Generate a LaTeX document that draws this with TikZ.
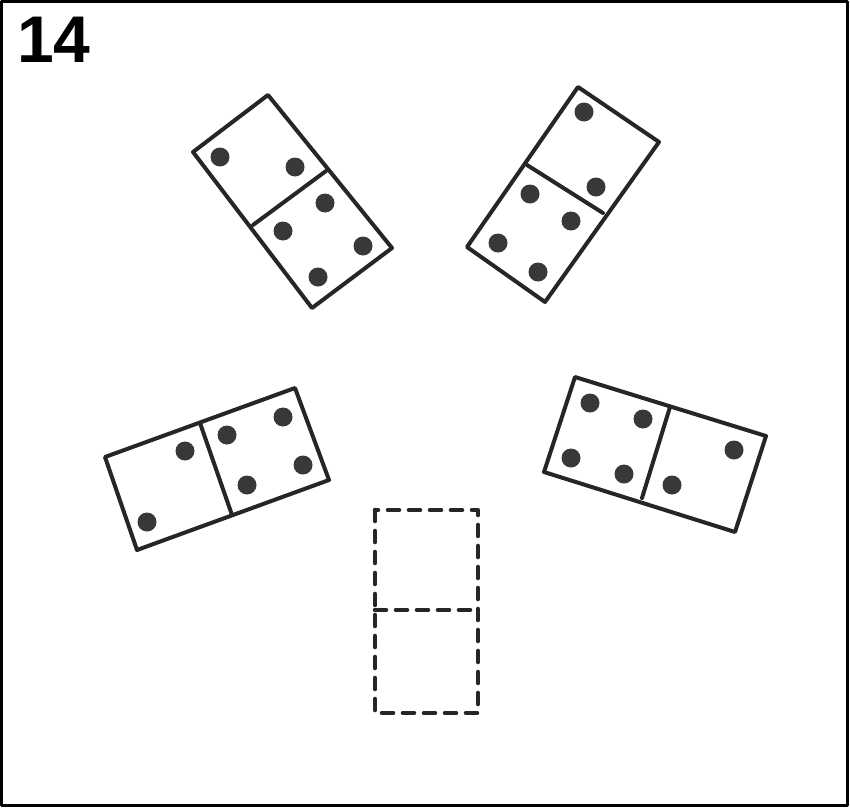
\documentclass[tikz,border=0pt]{standalone}
\usepackage{fontspec}
\setmainfont{Liberation Sans}
\usetikzlibrary{calc}

\begin{document}
\begin{tikzpicture}[
  x=1pt, y=-1pt,
  line cap=round,
  line join=round,
  tile/.style={line width=4pt, draw=black!85},
  ghost/.style={line width=4.6pt, draw=black!85, dash pattern=on 11pt off 10pt},
  pip/.style={fill=black!78}
]
  \useasboundingbox (0,0) rectangle (850,808);
  \draw[line width=2.5pt] (1.5,1.5) rectangle (847.5,805.5);
  \node[anchor=base west, inner sep=0pt, font=\bfseries\fontsize{66}{66}\selectfont] (num) at (17,63) {14};

  % upper left tile (2 | 4)
  \coordinate (a1) at (268, 95);
  \coordinate (a2) at (392,248);
  \coordinate (a3) at (312,308);
  \coordinate (a4) at (193,152);
  \draw[tile] (a1) -- (a2) -- (a3) -- (a4) -- cycle;
  \draw[tile] (326,171) -- (253,225);
  \foreach \x/\y in {220/157, 295/167, 325/203, 283/231, 363/246, 318/277}
    {\fill[pip] (\x,\y) circle (9.5);}

  % upper right tile (2 | 4)
  \coordinate (b1) at (578, 87);
  \coordinate (b2) at (659,142);
  \coordinate (b3) at (545,302);
  \coordinate (b4) at (467,247);
  \draw[tile] (b1) -- (b2) -- (b3) -- (b4) -- cycle;
  \draw[tile] (527,165) -- (603,213);
  \foreach \x/\y in {584/112, 596/187, 530/194, 571/221, 498/243, 538/272}
    {\fill[pip] (\x,\y) circle (9.5);}

  % middle left tile (2 | 4)
  \coordinate (c1) at (105,457);
  \coordinate (c2) at (295,388);
  \coordinate (c3) at (329,480);
  \coordinate (c4) at (137,550);
  \draw[tile] (c1) -- (c2) -- (c3) -- (c4) -- cycle;
  \draw[tile] (200,423) -- (232,515);
  \foreach \x/\y in {185/451, 147/522, 227/435, 283/417, 303/465, 247/485}
    {\fill[pip] (\x,\y) circle (9.5);}

  % middle right tile (4 | 2)
  \coordinate (d1) at (575,377);
  \coordinate (d2) at (766,436);
  \coordinate (d3) at (735,532);
  \coordinate (d4) at (544,472);
  \draw[tile] (d1) -- (d2) -- (d3) -- (d4) -- cycle;
  \draw[tile] (670,407) -- (642,498);
  \foreach \x/\y in {590/403, 643/419, 571/458, 624/474, 734/450, 672/485}
    {\fill[pip] (\x,\y) circle (9.5);}

  % missing tile
  \coordinate (e1) at (375,510);
  \coordinate (e2) at (478,713);
  \draw[ghost] (e1) rectangle (e2);
  \draw[ghost] (375,610) -- (478,610);
\end{tikzpicture}
\end{document}
